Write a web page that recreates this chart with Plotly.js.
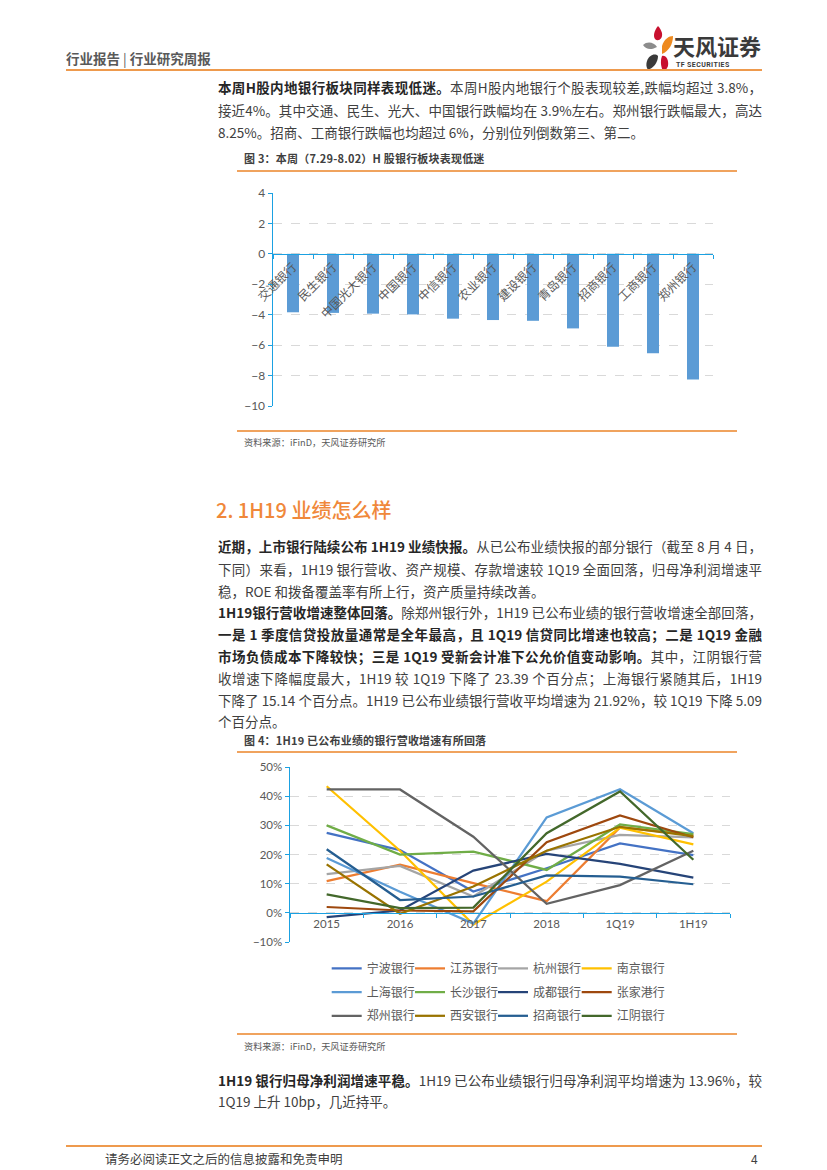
<!DOCTYPE html>
<html><head><meta charset="utf-8">
<script src="https://cdn.plot.ly/plotly-3.0.1.min.js"></script>
<style>
body{margin:0;background:#fff;}
#page{position:relative;width:827px;height:1170px;overflow:hidden;font-family:"Noto Sans CJK SC","Noto Sans",sans-serif;color:#404040;background:#fff;}
.abs{position:absolute;white-space:nowrap;}
.ln{position:absolute;left:218px;width:544px;font-size:13.5px;line-height:22px;height:22px;white-space:nowrap;text-align:justify;text-align-last:justify;}
.ln.last{text-align-last:left;}
.ln b{font-weight:700;color:#262626;}
.rule{position:absolute;background:#F0A35E;}
.figt{position:absolute;left:244px;font-size:11px;letter-spacing:0.2px;font-weight:700;color:#404040;line-height:14px;white-space:nowrap;}
.src{position:absolute;left:244px;font-size:9.2px;color:#595959;line-height:12px;white-space:nowrap;}
</style></head>
<body><div id="page">
<div class="abs" style="left:66px;top:49px;font-size:13.5px;line-height:18px;color:#595959;font-weight:700;">行业报告<span style="font-weight:400;margin:0 3px;">|</span>行业研究周报</div>
<svg class="abs" style="left:636px;top:20px;" width="130" height="54" viewBox="0 0 130 54">
  <path d="M22,6 C18,11 17,16 19,19 C22,22 27,19 26,13 C25,10 24,8 22,6 Z" fill="#C8102E"/>
  <path d="M26,26 C28,19 33,16 37,16 C37,24 33,31 26,34 Z" fill="#EE8A1F"/>
  <path d="M7,25 C11,21 18,22 21,27 C16,30 10,30 7,25 Z" fill="#8C8C8C"/>
  <path d="M11,41 C13,35 19,33 22,36 C22,43 17,48 12,50 C10,47 10,44 11,41 Z" fill="#3A3A3A"/>
  <path d="M26,36 C30,35 33,40 32,46 C31,49 29,51 27,51 C25,47 24,41 26,36 Z" fill="#C8102E"/>
  <text x="37" y="35" font-size="22" font-weight="700" fill="#3A3A3A" font-family="Noto Sans CJK SC">天风证券</text>
  <text x="40" y="47" font-size="7" font-weight="700" fill="#3A3A3A" font-family="Roboto" letter-spacing="0.4">TF SECURITIES</text>
</svg>
<div class="rule" style="left:66px;top:69px;width:696px;height:2px;background:#EE9A4D;"></div>

<div class="ln" style="top:76px;"><b>本周H股内地银行板块同样表现低迷。</b>本周H股内地银行个股表现较差,跌幅均超过 3.8%，</div>
<div class="ln" style="top:99px;">接近4%。其中交通、民生、光大、中国银行跌幅均在 3.9%左右。郑州银行跌幅最大，高达</div>
<div class="ln last" style="top:121px;">8.25%。招商、工商银行跌幅也均超过 6%，分别位列倒数第三、第二。</div>

<div class="figt" style="top:151px;">图 3：本周（7.29-8.02）H 股银行板块表现低迷</div>
<div class="rule" style="left:237px;top:170px;width:500px;height:1.5px;"></div>
<div id="chart1" style="position:absolute;left:237px;top:175px;width:500px;height:250px;"></div>
<div class="rule" style="left:237px;top:430px;width:500px;height:1.5px;"></div>
<div class="src" style="top:436px;">资料来源：iFinD，天风证券研究所</div>

<div class="abs" style="left:216px;top:497px;font-size:20px;line-height:26px;color:#F0883A;font-weight:500;">2. 1H19 业绩怎么样</div>

<div class="ln" style="top:535px;"><b>近期，上市银行陆续公布 1H19 业绩快报。</b>从已公布业绩快报的部分银行（截至 8 月 4 日，</div>
<div class="ln" style="top:558px;">下同）来看，1H19 银行营收、资产规模、存款增速较 1Q19 全面回落，归母净利润增速平</div>
<div class="ln last" style="top:580px;">稳，ROE 和拨备覆盖率有所上行，资产质量持续改善。</div>

<div class="ln" style="top:601px;"><b>1H19银行营收增速整体回落。</b>除郑州银行外，1H19 已公布业绩的银行营收增速全部回落，</div>
<div class="ln" style="top:623px;"><b>一是 1 季度信贷投放量通常是全年最高，且 1Q19 信贷同比增速也较高；二是 1Q19 金融</b></div>
<div class="ln" style="top:645px;"><b>市场负债成本下降较快；三是 1Q19 受新会计准下公允价值变动影响。</b>其中，江阴银行营</div>
<div class="ln" style="top:667px;">收增速下降幅度最大，1H19 较 1Q19 下降了 23.39 个百分点；上海银行紧随其后，1H19</div>
<div class="ln" style="top:689px;">下降了 15.14 个百分点。1H19 已公布业绩银行营收平均增速为 21.92%，较 1Q19 下降 5.09</div>
<div class="ln last" style="top:710px;">个百分点。</div>

<div class="figt" style="top:733px;">图 4：1H19 已公布业绩的银行营收增速有所回落</div>
<div class="rule" style="left:237px;top:751px;width:500px;height:1.5px;"></div>
<div id="chart2" style="position:absolute;left:237px;top:755px;width:500px;height:275px;"></div>
<div class="rule" style="left:237px;top:1033px;width:500px;height:1.5px;"></div>
<div class="src" style="top:1040px;">资料来源：iFinD，天风证券研究所</div>

<div class="ln" style="top:1069px;"><b>1H19 银行归母净利润增速平稳。</b>1H19 已公布业绩银行归母净利润平均增速为 13.96%，较</div>
<div class="ln last" style="top:1090px;">1Q19 上升 10bp，几近持平。</div>

<div class="rule" style="left:66px;top:1145px;width:696px;height:1.5px;background:#EE9A4D;"></div>
<div class="abs" style="left:105px;top:1150px;font-size:12.5px;line-height:17px;color:#404040;">请务必阅读正文之后的信息披露和免责申明</div>
<div class="abs" style="left:751px;top:1150px;font-size:12px;line-height:17px;color:#404040;">4</div>
</div>
<script>
// ---- Figure 3 data ----
const hBanks = ['交通银行','民生银行','中国光大银行','中国银行','中信银行','农业银行','建设银行','青岛银行','招商银行','工商银行','郑州银行'];
const hWeekChange = [-3.84,-3.88,-3.93,-3.98,-4.26,-4.35,-4.40,-4.90,-6.11,-6.53,-8.25];
const y1Ticks = [-10,-8,-6,-4,-2,0,2,4];

// ---- Figure 4 data (营收增速, %) ----
const periods = ['2015','2016','2017','2018','1Q19','1H19'];
const ningbo   = [27.4, 21.5,  7.3, 15.3, 23.8, 19.8];
const jiangsu  = [10.9, 16.5, 10.2,  4.0, 29.3, 26.7];
const hangzhou = [13.3, 16.1,  5.6, 21.3, 26.7, 25.9];
const nanjing  = [43.4, 21.3, -4.0, 10.7, 29.2, 23.5];
const shanghai = [18.8,  7.2, -3.7, 32.7, 42.4, 27.3];
const changsha = [30.0, 20.0, 21.0, 14.7, 30.3, 27.0];
const chengdu  = [-1.5,  0.8, 14.5, 20.2, 16.8, 12.1];
const zjg      = [ 2.0,  0.8,  0.5, 24.2, 33.4, 25.9];
const zhengzhou= [42.3, 42.3, 26.1,  3.1,  9.5, 21.3];
const xian     = [16.6, -0.3,  9.0, 21.3, 29.5, 26.3];
const zhaoshang= [21.8,  4.4,  5.6, 12.8, 12.4,  9.8];
const jiangyin = [ 6.3,  1.6,  1.8, 27.3, 41.6, 18.2];
const seriesNames = ['宁波银行','江苏银行','杭州银行','南京银行','上海银行','长沙银行','成都银行','张家港行','郑州银行','西安银行','招商银行','江阴银行'];
const seriesValues = [ningbo,jiangsu,hangzhou,nanjing,shanghai,changsha,chengdu,zjg,zhengzhou,xian,zhaoshang,jiangyin];
const seriesColors = ['#4472C4','#ED7D31','#A5A5A5','#FFC000','#5B9BD5','#70AD47','#264478','#9E480E','#636363','#997300','#255E91','#43682B'];

const FONT = 'Lato, "Noto Sans CJK SC", sans-serif';
const AX = '#1BA1E2';

Plotly.newPlot('chart1', [{
  type:'bar', x:hBanks, y:hWeekChange, marker:{color:'#5B9BD5'}, hoverinfo:'none'
}], {
  width:500, height:250,
  margin:{l:36,r:24,t:18,b:19,autoexpand:false},
  paper_bgcolor:'rgba(0,0,0,0)', plot_bgcolor:'rgba(0,0,0,0)',
  bargap:0.7, showlegend:false,
  font:{family:FONT,size:11,color:'#595959'},
  xaxis:{type:'category', anchor:'free', position:10/14, showline:true, linecolor:AX, linewidth:1.5,
         ticks:'outside', tickson:'boundaries', ticklen:4, tickcolor:AX, tickwidth:1,
         tickangle:-45, tickfont:{size:12,color:'#595959',family:'"Noto Sans CJK SC", sans-serif'}, showgrid:false},
  yaxis:{range:[-10,4], tickvals:y1Ticks, showline:true, linecolor:AX, linewidth:1.5,
         ticks:'outside', ticklen:4, tickcolor:AX, showgrid:true, gridcolor:'#D9D9D9', griddash:'dash',
         zeroline:false, tickfont:{size:12,color:'#595959'}}
}, {staticPlot:true});

// legend columns (Excel lays legend out row-wise, 4 per row)
const legendOf = i => ['legend','legend2','legend3','legend4'][i % 4];
const traces = seriesValues.map((v,i)=>({
  type:'scatter', mode:'lines', name:seriesNames[i], x:periods, y:v.map(d=>d/100),
  line:{color:seriesColors[i], width:2.25}, hoverinfo:'none',
  legend: legendOf(i), legendgroup:'g'+i
}));
const legBase = {orientation:'v', xanchor:'left', y:-0.068, yanchor:'top', tracegroupgap:4.7,
  font:{size:12,color:'#595959',family:'"Noto Sans CJK SC", sans-serif'}, bgcolor:'rgba(0,0,0,0)', traceorder:'grouped'};
Plotly.newPlot('chart2', traces, {
  width:500, height:275,
  margin:{l:53,r:7,t:12,b:88,autoexpand:false},
  paper_bgcolor:'rgba(0,0,0,0)', plot_bgcolor:'rgba(0,0,0,0)',
  font:{family:FONT,size:11,color:'#595959'},
  showlegend:true,
  legend:Object.assign({}, legBase, {x:0.0834}),
  legend2:Object.assign({}, legBase, {x:0.2727}),
  legend3:Object.assign({}, legBase, {x:0.4614}),
  legend4:Object.assign({}, legBase, {x:0.6516}),
  xaxis:{type:'category', range:[-0.5,5.5], anchor:'free', position:10/60, showline:true, linecolor:AX, linewidth:1.5,
         ticks:'outside', tickson:'boundaries', ticklen:4, tickcolor:AX, showgrid:false,
         tickfont:{size:11.5,color:'#595959'}},
  yaxis:{range:[-0.1,0.5], dtick:0.1, tickformat:'.0%', showline:true, linecolor:AX, linewidth:1.5,
         ticks:'outside', ticklen:4, tickcolor:AX, showgrid:true, gridcolor:'#D9D9D9', griddash:'dash',
         zeroline:false, tickfont:{size:11.5,color:'#595959'}}
}, {staticPlot:true});
</script>
</body></html>
